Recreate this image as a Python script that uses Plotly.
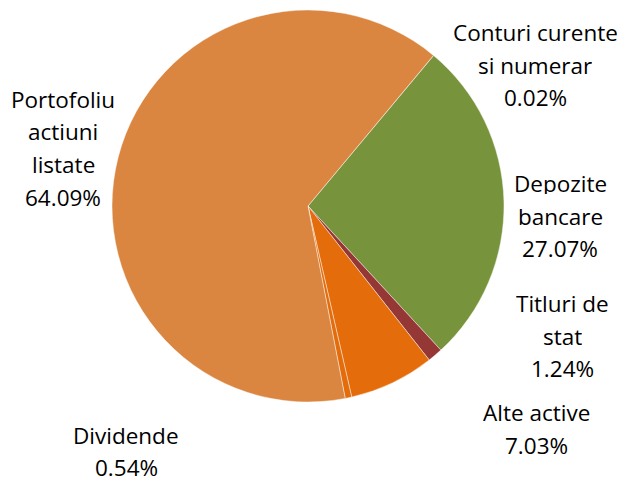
import plotly.graph_objects as go

labels = ["Conturi curente<br>si numerar", "Depozite<br>bancare", "Titluri de<br>stat",
          "Alte active", "Dividende", "Portofoliu<br>actiuni<br>listate"]
values = [0.02, 27.07, 1.24, 7.03, 0.54, 64.09]
colors = ["#4F81BD", "#77943C", "#953735", "#E46C0A", "#E46C0A", "#DA8540"]

# label block placement: centre x and first-line centre y (page pixels)
label_pos = [(535, 32), (560, 183), (562, 303), (536, 412), (126, 435), (63, 99)]
LINE_STEP = 32.5

OFF = 8  # page body margin
W, H = 617, 474

def fx(px):
    return (px - OFF) / W

def fy(py):
    return 1 - (py - OFF) / H

fig = go.Figure(go.Pie(
    labels=labels, values=values, sort=False, direction="clockwise", rotation=39.8,
    marker=dict(colors=colors, line=dict(color="rgba(255,255,255,0.6)", width=0.75)),
    textinfo="none", hoverinfo="label+percent", showlegend=False,
    domain=dict(x=[fx(112), fx(504)], y=[fy(402), fy(10)]),
))

for lab, v, (px, py) in zip(labels, values, label_pos):
    lines = lab.split("<br>") + [f"{v:.2f}%"]
    step = LINE_STEP if len(lines) > 2 or py < 420 else 31.5
    for i, line in enumerate(lines):
        fig.add_annotation(
            x=fx(px), y=fy(py + i * step), xref="paper", yref="paper",
            text=line, showarrow=False, align="center",
            xanchor="center", yanchor="middle", height=22, valign="middle",
            font=dict(family="Open Sans", size=22.5, color="#000000"),
        )

fig.update_layout(
    width=W, height=H, margin=dict(l=0, r=0, t=0, b=0),
    paper_bgcolor="white", plot_bgcolor="white",
)
fig.write_html("out.html")
